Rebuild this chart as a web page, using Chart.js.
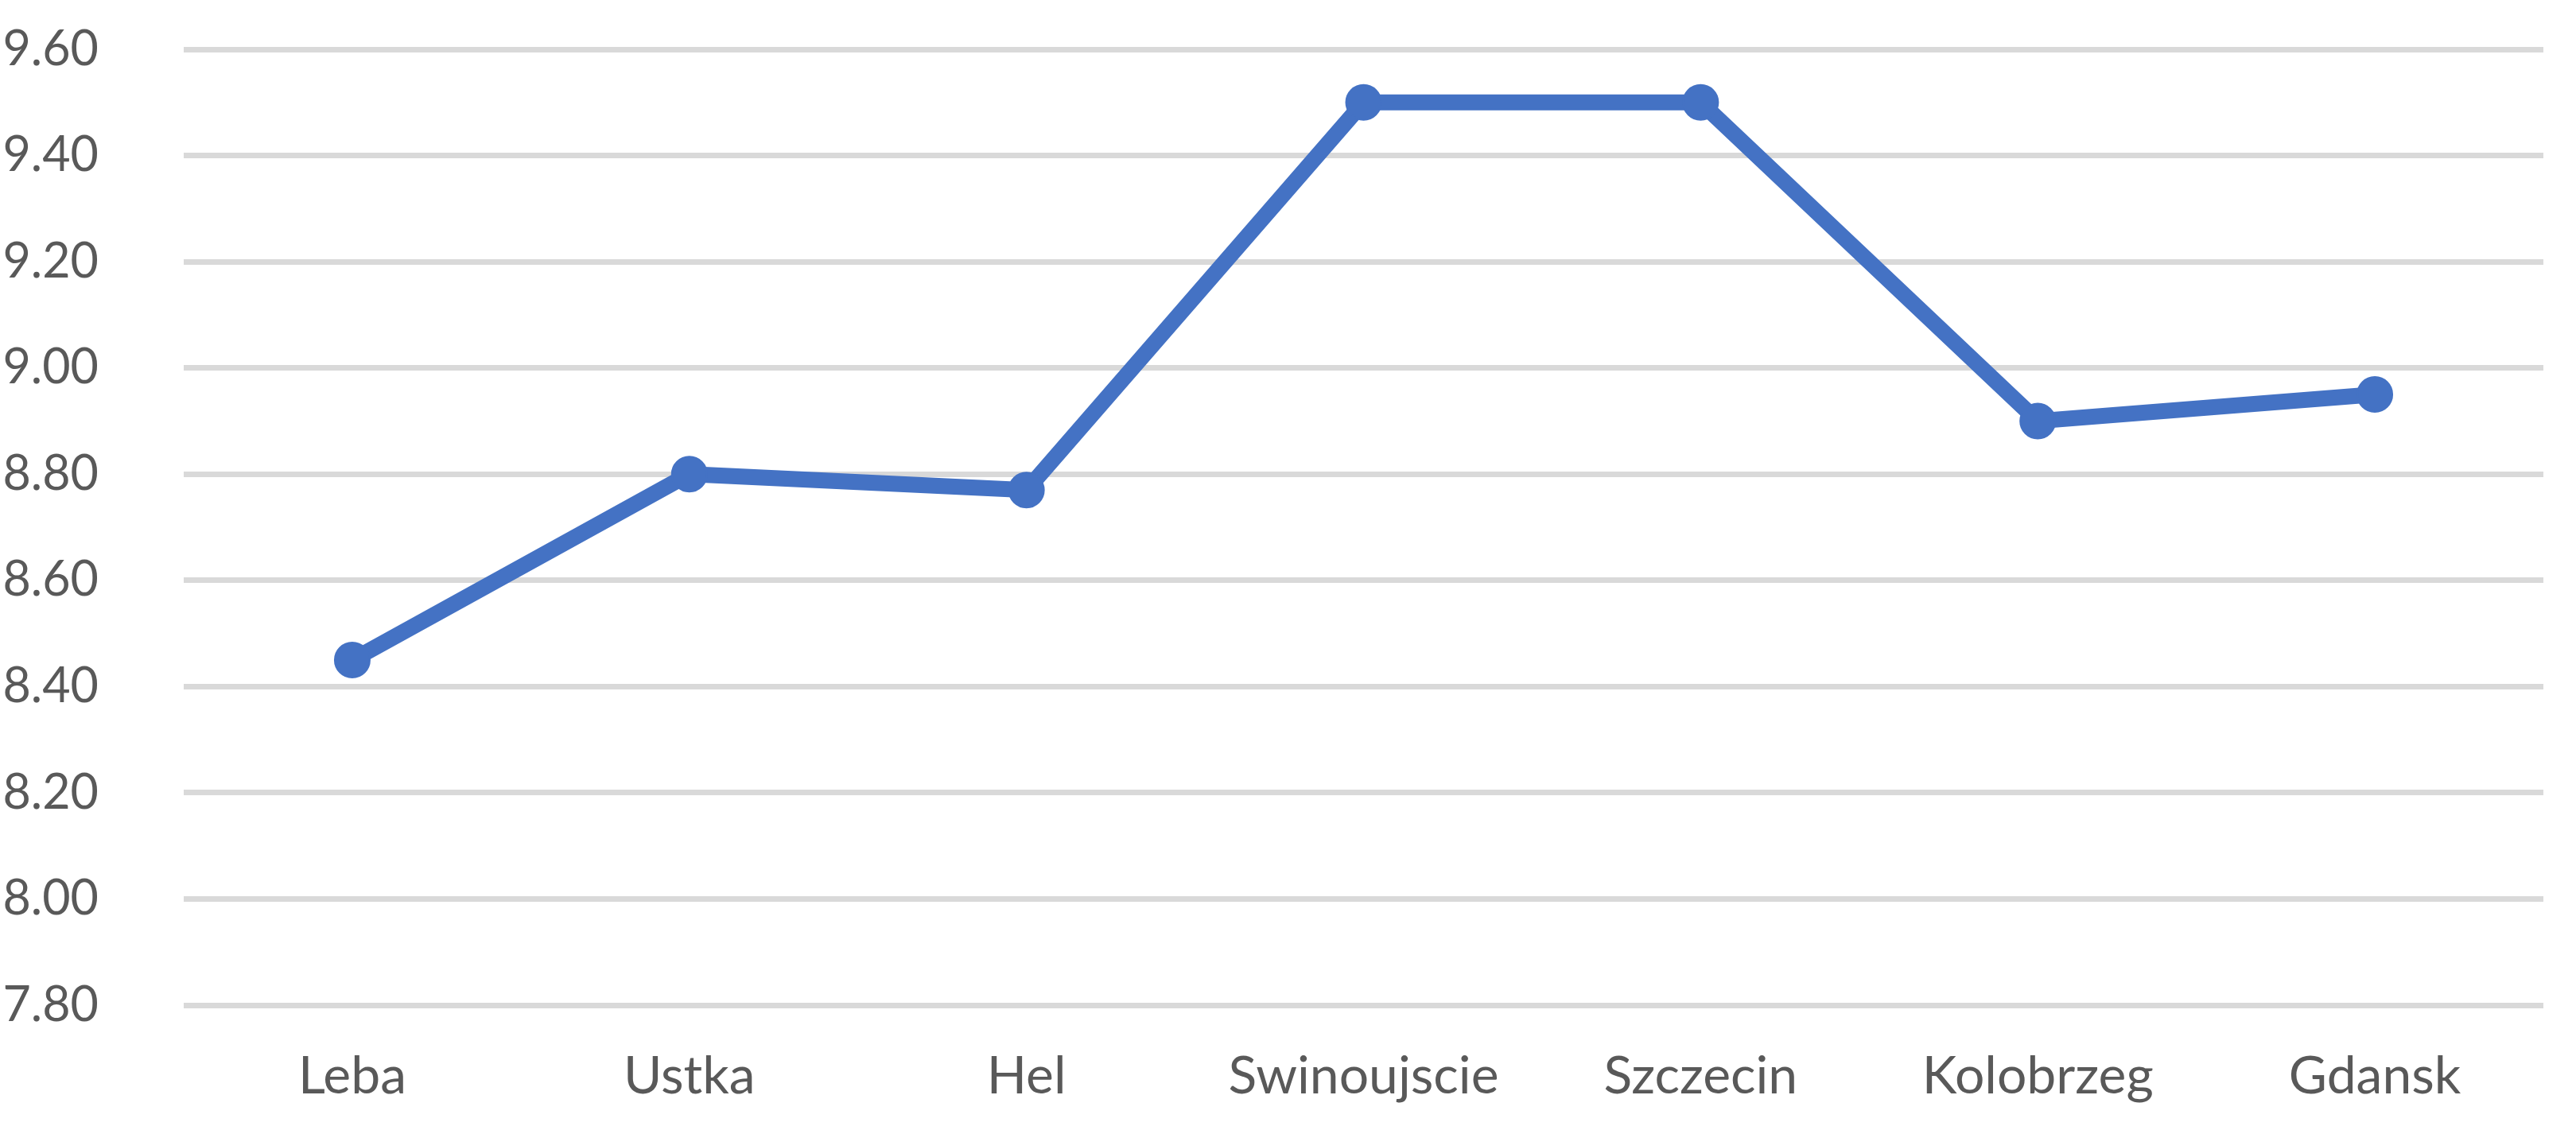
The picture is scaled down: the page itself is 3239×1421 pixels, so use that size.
<!DOCTYPE html>
<html>
<head>
<meta charset="utf-8">
<script src="https://cdn.jsdelivr.net/npm/chart.js@4.4.1/dist/chart.umd.min.js"></script>
<style>
    html, body { margin: 0; padding: 0; background: #fff; }
    #wrap { width: 3239px; height: 1421px; }
</style>
</head>
<body>
<div id="wrap"><canvas id="lineChart"></canvas></div>
<script>
const stations = ["Leba", "Ustka", "Hel", "Swinoujscie", "Szczecin", "Kolobrzeg", "Gdansk"];
const values = [8.45, 8.80, 8.77, 9.50, 9.50, 8.90, 8.95];
const yTicks = [7.80, 8.00, 8.20, 8.40, 8.60, 8.80, 9.00, 9.20, 9.40, 9.60];

const blue = '#4472C4';
const ctx = document.getElementById('lineChart').getContext('2d');

new Chart(ctx, {
    type: 'line',
    data: {
        labels: stations,
        datasets: [{
            data: values,
            borderColor: blue,
            backgroundColor: blue,
            borderWidth: 20,
            pointRadius: 22,
            pointBorderWidth: 2,
            pointBackgroundColor: blue,
            pointBorderColor: blue,
            tension: 0,
            fill: false
        }]
    },
    options: {
        responsive: true,
        maintainAspectRatio: false,
        animation: false,
        layout: { padding: { top: 62, right: 41, left: 0, bottom: 0 } },
        plugins: {
            legend: { display: false },
            tooltip: { enabled: false }
        },
        scales: {
            x: {
                offset: true,
                grid: { display: false, drawTicks: false },
                border: { display: false },
                ticks: {
                    color: '#595959',
                    font: { family: 'Lato', size: 66 },
                    padding: 50,
                    maxRotation: 0
                },
                afterFit: scale => {
                    scale.height = 157;
                    scale.paddingLeft = 0;
                    scale.paddingRight = 0;
                }
            },
            y: {
                min: 7.8,
                max: 9.6,
                grid: { color: '#D9D9D9', lineWidth: 7, drawTicks: false },
                border: { display: false },
                ticks: {
                    color: '#595959',
                    font: { family: 'Lato', size: 61 },
                    padding: 107,
                    callback: v => Number(v).toFixed(2)
                },
                afterBuildTicks: scale => {
                    scale.ticks = yTicks.map(v => ({ value: v }));
                },
                afterFit: scale => {
                    scale.width = 231;
                    scale.paddingTop = 0;
                    scale.paddingBottom = 0;
                }
            }
        }
    }
});
</script>
</body>
</html>
